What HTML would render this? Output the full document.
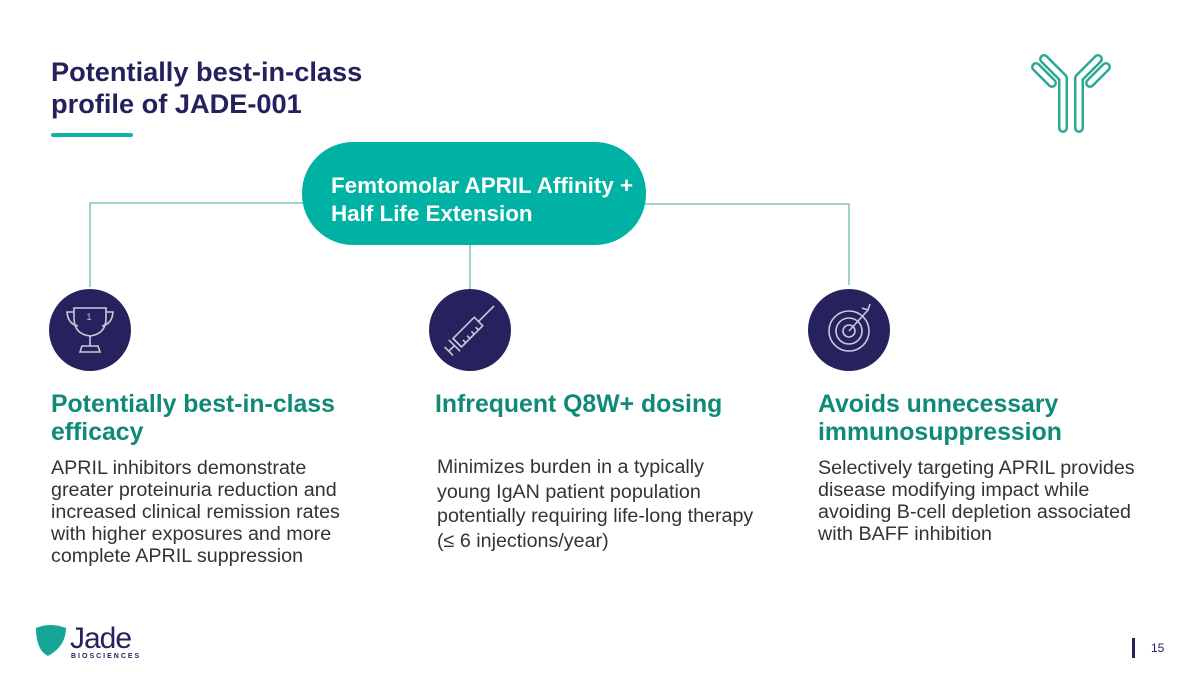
<!DOCTYPE html>
<html><head><meta charset="utf-8"><style>
body{margin:0;width:1200px;height:675px;background:#fff;font-family:"Liberation Sans",Arial,sans-serif;position:relative;overflow:hidden}
.a{position:absolute}
h1{position:absolute;left:51px;top:56px;margin:0;font-size:27.2px;line-height:32px;color:#24215c;font-weight:bold}
.h{position:absolute;font-size:24.8px;line-height:28px;font-weight:bold;color:#0e8a76}
.p{position:absolute;font-size:19.7px;line-height:22px;color:#333}
</style></head><body>
<h1>Potentially best-in-class<br>profile of JADE-001</h1>
<div class="a" style="left:51px;top:133px;width:82px;height:4px;background:#0fb3a4;border-radius:2px"></div>
<svg class="a" style="left:0;top:0" width="1200" height="675">
<g stroke="#6fb9b4" stroke-width="1.3" fill="none">
<path d="M90 287 V203 H305"/><path d="M640 204 H849 V285"/><path d="M470 244 V290"/>
</g>
<rect x="302" y="142" width="344" height="103" rx="51" fill="#00b2a4"/>
<circle cx="90" cy="330" r="41" fill="#26225e"/>
<circle cx="470" cy="330" r="41" fill="#26225e"/>
<circle cx="849" cy="330" r="41" fill="#26225e"/>
<g stroke="#c9c9d8" stroke-width="1.6" fill="none">
<path d="M74 308 H106 V318 Q106 334 90 336 Q74 334 74 318 Z"/><path d="M74 312 H67 Q68 324 78 326 M106 312 H113 Q112 324 102 326"/><path d="M90 336 V346 M82 346 H98 L100 352 H80 Z"/>
<g transform="rotate(-45 470 330)">
<rect x="452" y="324" width="30" height="12"/><path d="M482 330 H498 M498 330 H504 M452 324 V336 M448 322 V338 M448 330 H440 M440 324 V336 M458 336 V332 M464 336 V332 M470 336 V332 M476 336 V332"/>
</g>
<circle cx="849" cy="331" r="20"/><circle cx="849" cy="331" r="13"/><circle cx="849" cy="331" r="6"/><path d="M849 331 L868 310 M862 308 L868 310 L870 304"/>
</g>
<text x="89" y="320" font-size="9" fill="#c9c9d8" font-family="Liberation Sans" text-anchor="middle">1</text>
<g fill="none" stroke-linecap="round" stroke-linejoin="round">
<g stroke="#2aa893" stroke-width="10">
<path d="M1044 59 L1063 78 V128"/><path d="M1036 67 L1052 83"/>
<path d="M1098 59 L1079 78 V128"/><path d="M1106 67 L1090 83"/>
</g>
<g stroke="#fff" stroke-width="5">
<path d="M1044 59 L1063 78 V128"/><path d="M1036 67 L1052 83"/>
<path d="M1098 59 L1079 78 V128"/><path d="M1106 67 L1090 83"/>
</g>
</g>
<path d="M36 628 Q50 622 66 628 Q66 646 48 656 Q36 650 36 628 Z" fill="#17a596"/>
<rect x="1132" y="638" width="3" height="20" fill="#26225e"/>
</svg>
<div class="a" style="left:331px;top:172px;color:#fff;font-weight:bold;font-size:22.4px;line-height:28px">Femtomolar APRIL Affinity +<br>Half Life Extension</div>
<div class="h" style="left:51px;top:391px">Potentially best-in-class<br>efficacy</div>
<div class="h" style="left:435px;top:391px">Infrequent Q8W+ dosing</div>
<div class="h" style="left:818px;top:391px">Avoids unnecessary<br>immunosuppression</div>
<div class="p" style="left:51px;top:457px">APRIL inhibitors demonstrate<br>greater proteinuria reduction and<br>increased clinical remission rates<br>with higher exposures and more<br>complete APRIL suppression</div>
<div class="p" style="left:437px;top:455px;line-height:24.5px">Minimizes burden in a typically<br>young IgAN patient population<br>potentially requiring life-long therapy<br>(≤ 6 injections/year)</div>
<div class="p" style="left:818px;top:457px">Selectively targeting APRIL provides<br>disease modifying impact while<br>avoiding B-cell depletion associated<br>with BAFF inhibition</div>
<div class="a" style="left:70px;top:622px;font-size:30px;color:#26225e;letter-spacing:-1px">Jade</div>
<div class="a" style="left:71px;top:653px;font-size:7px;color:#26225e;letter-spacing:2px;font-weight:bold">BIOSCIENCES</div>
<div class="a" style="left:1151px;top:641px;font-size:12px;color:#26225e">15</div>
</body></html>
